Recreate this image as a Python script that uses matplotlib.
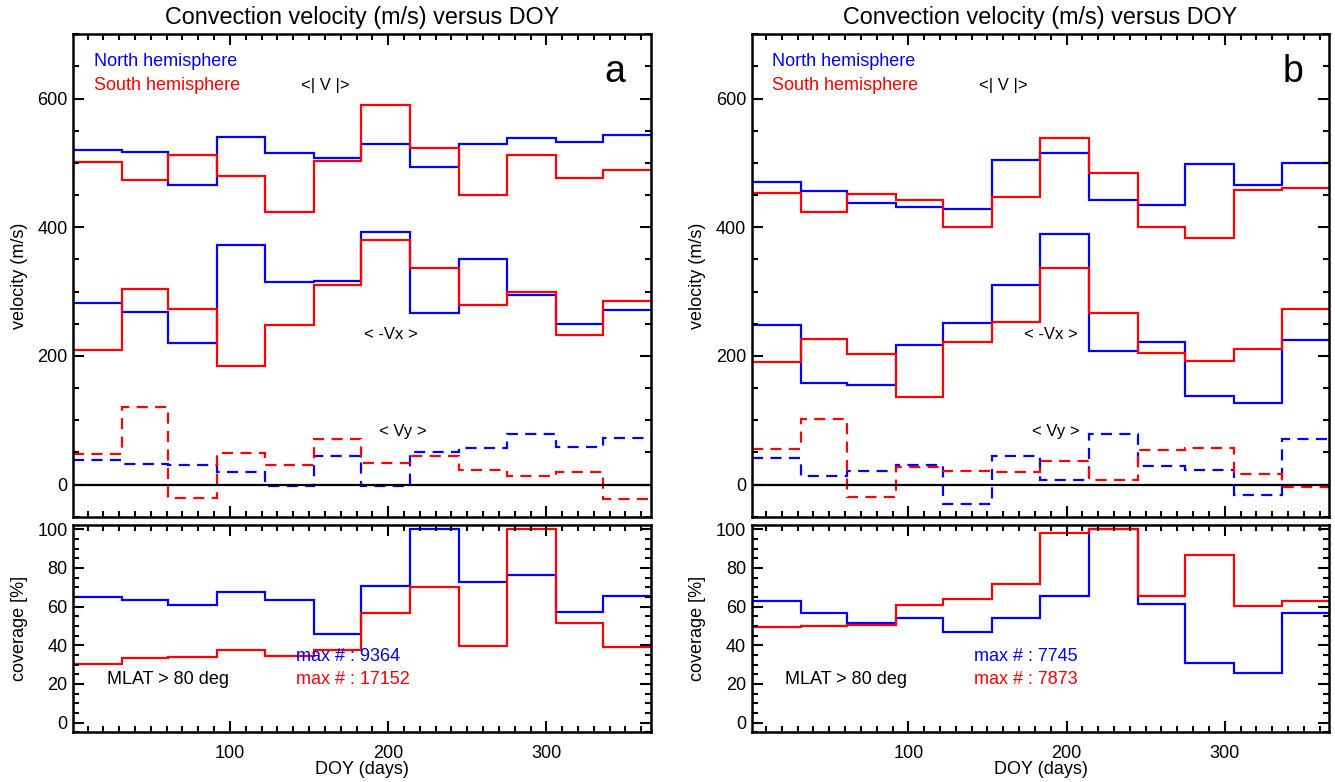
import matplotlib
matplotlib.use("Agg")
import matplotlib.pyplot as plt
from matplotlib.ticker import MultipleLocator

plt.rcParams['font.family'] = ['Liberation Sans', 'DejaVu Sans']

# ---------------- data ----------------
bin_edges = [1, 32, 61, 92, 122, 153, 183, 214, 245, 275, 306, 336, 366]

# panel a
a_absv_north = [520, 517, 465, 541, 515, 508, 529, 493, 530, 539, 533, 544]
a_absv_south = [501, 473, 512, 479, 424, 503, 590, 523, 450, 512, 477, 489]
a_vx_north = [283, 268, 220, 373, 315, 316, 392, 266, 351, 295, 250, 271]
a_vx_south = [209, 304, 273, 185, 248, 310, 380, 336, 279, 299, 233, 285]
a_vy_north = [38, 32, 31, 19, -3, 44, -3, 51, 57, 78, 59, 73]
a_vy_south = [47, 121, -21, 49, 31, 71, 33, 44, 23, 14, 19, -23]
a_cov_north = [65, 63.4, 61, 67.3, 63.4, 45.8, 70.5, 100, 72.6, 76.3, 57, 65.3]
a_cov_south = [30.3, 33.4, 33.7, 37.3, 34.5, 37.6, 56.6, 70, 39.8, 100, 51.5, 39.2]
a_max_north = 9364
a_max_south = 17152

# panel b
b_absv_north = [471, 456, 437, 431, 428, 504, 516, 443, 434, 498, 466, 500]
b_absv_south = [454, 424, 452, 442, 401, 447, 539, 485, 400, 383, 458, 461]
b_vx_north = [248, 158, 154, 217, 251, 310, 389, 208, 222, 138, 126, 225]
b_vx_south = [191, 226, 203, 136, 222, 253, 336, 266, 205, 192, 210, 273]
b_vy_north = [41, 14, 21, 31, -31, 44, 7, 78, 29, 23, -17, 71]
b_vy_south = [56, 102, -19, 28, 21, 20, 36, 7, 54, 57, 16, -4]
b_cov_north = [62.7, 56.8, 51.3, 54, 47.1, 54.2, 65.2, 100, 61.5, 30.8, 25.8, 56.5]
b_cov_south = [49.4, 50.2, 50.6, 61, 63.9, 71.8, 97.9, 100, 65.5, 86.5, 60.2, 62.9]
b_max_north = 7745
b_max_south = 7873

panels = [
    dict(tag='a', absv=(a_absv_north, a_absv_south), vx=(a_vx_north, a_vx_south),
         vy=(a_vy_north, a_vy_south), cov=(a_cov_north, a_cov_south),
         maxn=(a_max_north, a_max_south), vx_lab=202, vy_lab=209),
    dict(tag='b', absv=(b_absv_north, b_absv_south), vx=(b_vx_north, b_vx_south),
         vy=(b_vy_north, b_vy_south), cov=(b_cov_north, b_cov_south),
         maxn=(b_max_north, b_max_south), vx_lab=190, vy_lab=193),
]

W, H = 1335, 782
fig = plt.figure(figsize=(W / 100, H / 100), dpi=100)

BLUE = '#0000ff'
RED = '#ff0000'
LW = 1.6
FS = 13

lefts_px = [73.3, 751.7]
width_px = 577.5
vel_top, vel_bot = 34.3, 516.7
cov_top, cov_bot = 525.3, 732.3


def style_axes(ax, xlab):
    ax.set_xlim(1, 366)
    ax.xaxis.set_major_locator(MultipleLocator(100))
    ax.xaxis.set_minor_locator(MultipleLocator(10))
    ax.tick_params(which='both', direction='in', top=True, right=True,
                   width=1.5, labelsize=FS)
    ax.tick_params(which='major', length=8)
    ax.tick_params(which='minor', length=4.3)
    ax.tick_params(axis='x', pad=9)
    ax.tick_params(axis='y', pad=4)
    for s in ax.spines.values():
        s.set_linewidth(1.8)
    if not xlab:
        ax.tick_params(axis='x', labelbottom=False)


for i, p in enumerate(panels):
    l = lefts_px[i] / W
    w = width_px / W
    axv = fig.add_axes([l, 1 - vel_bot / H, w, (vel_bot - vel_top) / H])
    axc = fig.add_axes([l, 1 - cov_bot / H, w, (cov_bot - cov_top) / H])

    # velocity panel
    for vals, col in zip(p['absv'], (BLUE, RED)):
        axv.stairs(vals, bin_edges, baseline=None, color=col, lw=LW)
    for vals, col in zip(p['vx'], (BLUE, RED)):
        axv.stairs(vals, bin_edges, baseline=None, color=col, lw=LW)
    for vals, col in zip(p['vy'], (BLUE, RED)):
        axv.stairs(vals, bin_edges, baseline=None, color=col, lw=LW,
                   linestyle=(0, (5, 3.3)))
    axv.axhline(0, color='black', lw=LW)
    axv.set_ylim(-50, 700)
    axv.yaxis.set_major_locator(MultipleLocator(200))
    axv.yaxis.set_minor_locator(MultipleLocator(50))
    style_axes(axv, False)

    axv.text(14, 657, 'North hemisphere', color=BLUE, fontsize=FS, va='center')
    axv.text(14, 620, 'South hemisphere', color=RED, fontsize=FS, va='center')
    axv.text(160, 620, '<| V |>', color='black', fontsize=FS - 1, va='center', ha='center')
    axv.text(p['vx_lab'], 233, '< -Vx >', color='black', fontsize=FS - 1, va='center', ha='center')
    axv.text(p['vy_lab'], 82, '< Vy >', color='black', fontsize=FS - 1, va='center', ha='center')
    axv.text(350, 626, p['tag'], color='black', fontsize=27, va='baseline', ha='right')

    # coverage panel
    for vals, col in zip(p['cov'], (BLUE, RED)):
        axc.stairs(vals, bin_edges, baseline=None, color=col, lw=LW)
    axc.set_ylim(-5, 102)
    axc.yaxis.set_major_locator(MultipleLocator(20))
    axc.yaxis.set_minor_locator(MultipleLocator(5))
    style_axes(axc, True)
    axc.text(22, 22.4, 'MLAT > 80 deg', color='black', fontsize=FS, va='center')
    axc.text(141.5, 34, 'max # : %d' % p['maxn'][0], color=BLUE, fontsize=FS, va='center')
    axc.text(141.5, 22.4, 'max # : %d' % p['maxn'][1], color=RED, fontsize=FS, va='center')

    cx = (lefts_px[i] + width_px / 2) / W
    fig.text(cx, 1 - 17.5 / H, 'Convection velocity (m/s) versus DOY',
             fontsize=16.8, ha='center', va='center')
    fig.text(cx, 1 - 770 / H, 'DOY (days)', fontsize=FS, ha='center', va='center')
    lx = (lefts_px[i] - 53.8) / W
    fig.text(lx, 1 - (vel_top + vel_bot) / 2 / H, 'velocity (m/s)', fontsize=FS,
             rotation=90, ha='center', va='center')
    fig.text(lx, 1 - (cov_top + cov_bot) / 2 / H, 'coverage [%]', fontsize=FS,
             rotation=90, ha='center', va='center')

fig.savefig('out.png', dpi=100)
